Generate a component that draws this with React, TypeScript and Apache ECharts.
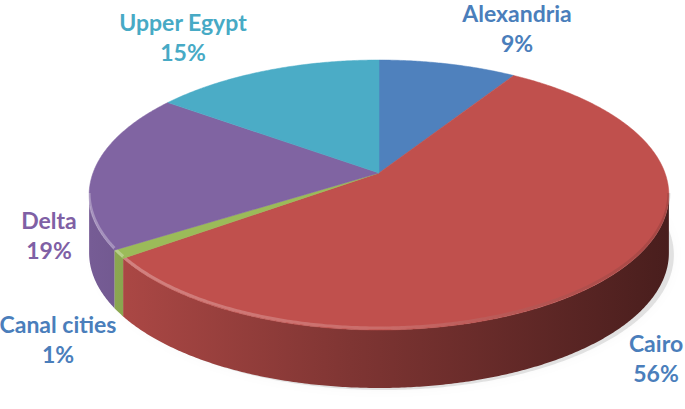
import React, { useEffect, useRef } from "react";
import * as echarts from "echarts";

const categories = ["Alexandria", "Cairo", "Canal cities", "Delta", "Upper Egypt"];
const values = [9, 56, 1, 19, 15];
const topColors = ["#4f81bd", "#c0504d", "#9bbb59", "#8064a2", "#4bacc6"];
const labelColors = ["#4a7ebb", "#4a7ebb", "#4a7ebb", "#7f60a5", "#47aac5"];
// label first-line centres (layout only)
const labelAnchors = [
  [517, 13],
  [656, 343],
  [58, 324],
  [49, 220],
  [183, 22],
];
const LINE_GAP = 30;

// pie geometry (layout)
const CX = 379;
const CY = 173;
const A = 131.4;
const B = 286;
const P = 0.163;
const D = 58;

function proj(t: number, dy: number): number[] {
  const X = Math.sin(t);
  const Z = Math.cos(t);
  const d = 1 + P * Z;
  return [CX + (B * X) / d, CY - (A * Z) / d + dy];
}

function arc(s: number, e: number, dy: number): number[][] {
  const n = Math.max(2, Math.ceil(Math.abs(e - s) / (Math.PI / 360)));
  const pts: number[][] = [];
  for (let j = 0; j <= n; j++) pts.push(proj(s + ((e - s) * j) / n, dy));
  return pts;
}

function shade(hex: string, f: number): string {
  const r = parseInt(hex.slice(1, 3), 16);
  const g = parseInt(hex.slice(3, 5), 16);
  const b = parseInt(hex.slice(5, 7), 16);
  const c = (v: number) => Math.max(0, Math.min(255, Math.round(v * f)));
  return `rgb(${c(r)},${c(g)},${c(b)})`;
}

export default function App() {
  const ref = useRef<HTMLDivElement>(null);
  useEffect(() => {
    if (!ref.current) return;
    const chart = echarts.init(ref.current, undefined, { renderer: "svg" });
    const total = values.reduce((a, b) => a + b, 0);
    const S1 = Math.acos(-P);
    const S2 = 2 * Math.PI - S1;
    const font = 'bold 23px Lato, "Open Sans", sans-serif';

    const option: any = {
      animation: false,
      backgroundColor: "#ffffff",
      series: [
        {
          type: "custom",
          coordinateSystem: "none",
          z: 1,
          data: [[0]],
          renderItem: () => {
            const pts = arc(0, 2 * Math.PI, D + 2).map((p) => [p[0] + 5, p[1]]);
            return {
              type: "polygon",
              shape: { points: pts },
              style: {
                fill: "rgba(0,0,0,0.10)",
                shadowBlur: 10,
                shadowColor: "rgba(0,0,0,0.25)",
              },
            };
          },
        },
        {
          type: "custom",
          coordinateSystem: "none",
          z: 2,
          data: values.map((v, i) => [i, v]),
          renderItem: (params: any, api: any) => {
            const i = params.dataIndex;
            const before = values.slice(0, i).reduce((a, b) => a + b, 0);
            const start = (before / total) * 2 * Math.PI;
            const end = start + (api.value(1) / total) * 2 * Math.PI;
            const children: any[] = [];
            const s = Math.max(start, S1);
            const e = Math.min(end, S2);
            if (e > s) {
              const top = arc(s, e, 0);
              const bot = arc(e, s, D);
              children.push({
                type: "polygon",
                shape: { points: top.concat(bot) },
                style: {
                  fill: new echarts.graphic.LinearGradient(
                    90,
                    0,
                    668,
                    0,
                    [
                      { offset: 0, color: shade(topColors[i], 0.92) },
                      { offset: 0.45, color: shade(topColors[i], 0.66) },
                      { offset: 1, color: shade(topColors[i], 0.38) },
                    ],
                    true
                  ),
                  stroke: null,
                },
              });
            }
            children.push({
              type: "polygon",
              shape: { points: [[CX, CY]].concat(arc(start, end, 0)) },
              style: { fill: topColors[i], stroke: topColors[i], lineWidth: 0.5 },
            });
            if (e > s) {
              children.push({
                type: "polyline",
                shape: { points: arc(s, e, -2) },
                style: {
                  fill: null,
                  stroke: new echarts.graphic.LinearGradient(
                    90,
                    0,
                    668,
                    0,
                    [
                      { offset: 0, color: "rgba(255,255,255,0.30)" },
                      { offset: 0.5, color: "rgba(255,255,255,0.16)" },
                      { offset: 1, color: "rgba(0,0,0,0.12)" },
                    ],
                    true
                  ),
                  lineWidth: 3,
                },
              });
            }
            const [lx, ly] = labelAnchors[i];
            const lines = [categories[i], `${api.value(1)}%`];
            lines.forEach((t, k) => {
              children.push({
                type: "text",
                x: lx,
                y: ly + k * LINE_GAP,
                style: {
                  text: t,
                  fill: labelColors[i],
                  font,
                  lineHeight: 23,
                  align: "center",
                  verticalAlign: "middle",
                },
              });
            });
            return { type: "group", children };
          },
        },
      ],
    };
    chart.setOption(option);
    return () => chart.dispose();
  }, []);
  return (
    <div
      ref={ref}
      style={{ position: "fixed", left: 0, top: 0, width: 685, height: 409 }}
    />
  );
}
